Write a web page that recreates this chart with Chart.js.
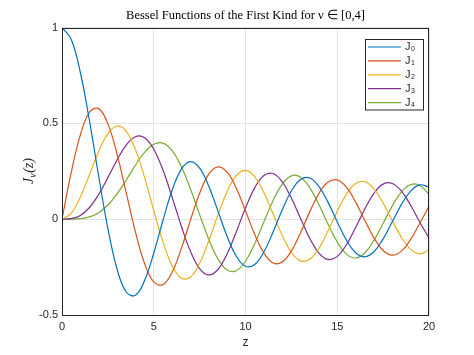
<!DOCTYPE html>
<html><head><meta charset="utf-8">
<script src="https://cdn.jsdelivr.net/npm/chart.js@4/dist/chart.umd.min.js"></script>
<style>html,body{margin:0;padding:0;background:#fff}#wrap{width:474px;height:355px}</style>
</head><body><div id="wrap"><canvas id="c" width="474" height="355"></canvas></div>
<script>
const z = [0,0.5,1,1.5,2,2.5,3,3.5,4,4.5,5,5.5,6,6.5,7,7.5,8,8.5,9,9.5,10,10.5,11,11.5,12,12.5,13,13.5,14,14.5,15,15.5,16,16.5,17,17.5,18,18.5,19,19.5,20];
const J0 = [1,0.93847,0.76520,0.51183,0.22389,-0.04838,-0.26005,-0.38013,-0.39715,-0.32054,-0.17760,-0.00684,0.15065,0.26009,0.30008,0.26635,0.17165,0.04194,-0.09033,-0.19393,-0.24594,-0.23665,-0.17119,-0.06766,0.04769,0.14688,0.20693,0.21499,0.17107,0.08755,-0.01422,-0.10923,-0.17490,-0.19638,-0.16985,-0.10311,-0.01336,0.07716,0.14663,0.17886,0.16702];
const J1 = [0,0.24227,0.44005,0.55794,0.57672,0.49709,0.33906,0.13738,-0.06604,-0.23106,-0.32758,-0.34144,-0.27668,-0.15384,-0.00468,0.13525,0.23464,0.27312,0.24531,0.16126,0.04347,-0.07887,-0.17679,-0.22838,-0.22345,-0.16548,-0.07032,0.03806,0.13338,0.19343,0.20510,0.16722,0.09040,-0.00577,-0.09767,-0.16343,-0.18795,-0.16663,-0.10575,-0.02088,0.06683];
const J2 = [0,0.03060,0.11490,0.23208,0.35283,0.44605,0.48609,0.45863,0.36413,0.21785,0.04657,-0.11732,-0.24287,-0.30743,-0.30142,-0.23028,-0.11299,0.02232,0.14485,0.22788,0.25463,0.22163,0.13905,0.02794,-0.08493,-0.17336,-0.21775,-0.20935,-0.15202,-0.06087,0.04157,0.13081,0.18620,0.19568,0.15836,0.08443,-0.00752,-0.09517,-0.15776,-0.18100,-0.16034];
const J3 = [0,0.00256,0.01956,0.06096,0.12894,0.21659,0.30906,0.38677,0.43017,0.42470,0.36483,0.25612,0.11477,-0.03535,-0.16756,-0.25807,-0.29113,-0.26262,-0.18093,-0.06531,0.05838,0.16330,0.22735,0.23810,0.19514,0.11000,0.00332,-0.10009,-0.17681,-0.21022,-0.19401,-0.13346,-0.04385,0.05321,0.13493,0.18273,0.18628,0.14605,0.07254,-0.01625,-0.09890];
const J4 = [0,0.00016,0.00248,0.01177,0.03400,0.07377,0.13203,0.20440,0.28113,0.34842,0.39123,0.39672,0.35764,0.27480,0.15780,0.02382,-0.10536,-0.20770,-0.26547,-0.26913,-0.21960,-0.12832,-0.01504,0.09629,0.18250,0.22616,0.21928,0.16487,0.07624,-0.02612,-0.11917,-0.18247,-0.20264,-0.17633,-0.11074,-0.02178,0.06961,0.14254,0.18067,0.17600,0.13067];
const seriesNames = ['0','1','2','3','4'];
const seriesValues = [J0,J1,J2,J3,J4];
const colors = ['#0072BD','#D95319','#EDB120','#7E2F8E','#77AC30'];
const titleText = 'Bessel Functions of the First Kind for \u03BD \u2208 [0,4]';
const xTitle = 'z';

const datasets = seriesValues.map((vals,i)=>({
  label: 'J' + seriesNames[i],
  data: z.map((x,k)=>({x:x,y:vals[k]})),
  borderColor: colors[i],
  backgroundColor: colors[i],
  borderWidth: 1.2,
  pointRadius: 0,
  tension: 0.4,
  fill: false
}));

const axisColor = '#262626';
const framePlugin = {
  id:'frame',
  afterDatasetsDraw(chart){
    const {ctx, chartArea:a} = chart;
    ctx.save();
    ctx.strokeStyle = axisColor; ctx.lineWidth = 1;
    ctx.strokeRect(Math.round(a.left)+0.5, Math.round(a.top)+0.5, Math.round(a.right-a.left)-1, Math.round(a.bottom-a.top)-1);
    // legend box
    const lx = 365, ly = 39, lw = 58, lh = 70.5;
    ctx.fillStyle = '#fff';
    ctx.fillRect(lx, ly, lw, lh);
    ctx.strokeStyle = axisColor;
    ctx.strokeRect(lx+0.5, ly+0.5, lw, lh);
    chart.data.datasets.forEach((ds,i)=>{
      const y = 47 + i*13.9;
      ctx.strokeStyle = ds.borderColor; ctx.lineWidth = 1.2;
      ctx.beginPath(); ctx.moveTo(368, y); ctx.lineTo(401, y); ctx.stroke();
      ctx.fillStyle = axisColor;
      ctx.textBaseline = 'middle'; ctx.textAlign = 'left';
      ctx.font = '11px "Liberation Sans", Arial, sans-serif';
      ctx.fillText('J', 405, y);
      const w = ctx.measureText('J').width;
      ctx.font = '7px "Liberation Sans", Arial, sans-serif';
      ctx.fillText(seriesNames[i], 405 + w + 0.5, y + 2.5);
    });
    // y axis label  J_nu(z)
    ctx.translate(28, (a.top + a.bottom)/2);
    ctx.rotate(-Math.PI/2);
    ctx.fillStyle = axisColor;
    ctx.textBaseline = 'alphabetic'; ctx.textAlign = 'left';
    const big = 'italic 14px "Liberation Serif", "Times New Roman", serif';
    const small = 'italic 10px "Liberation Serif", "Times New Roman", serif';
    ctx.font = big; const w1 = ctx.measureText('J').width;
    ctx.font = small; const w2 = ctx.measureText('\u03BD').width;
    ctx.font = big; const w3 = ctx.measureText('(z)').width;
    let x0 = -(w1+w2+w3)/2;
    ctx.font = big; ctx.fillText('J', x0, 5);
    ctx.font = small; ctx.fillText('\u03BD', x0 + w1, 8);
    ctx.font = big; ctx.fillText('(z)', x0 + w1 + w2 + 0.5, 5);
    ctx.restore();
  }
};

new Chart(document.getElementById('c'), {
  type:'line',
  data:{datasets},
  plugins:[framePlugin],
  options:{
    responsive:false, animation:false,
    layout:{padding:{left:0,right:45,top:0,bottom:0}},
    plugins:{
      legend:{display:false},
      tooltip:{enabled:false},
      title:{display:true, text:titleText, fullSize:false, color:'#000',
        font:{family:'"Liberation Serif", "Times New Roman", serif', size:12.5, weight:'normal'},
        padding:{top:8,bottom:4.5}}
    },
    scales:{
      x:{type:'linear', min:0, max:20,
        afterFit(s){ s.height = 40; },
        ticks:{stepSize:5, color:axisColor, padding:5, maxRotation:0,
          font:{family:'"Liberation Sans", Arial, sans-serif', size:11}},
        grid:{color:'#e3e3e3', drawTicks:false},
        border:{display:false},
        title:{display:true, text:xTitle, color:axisColor, padding:{top:0,bottom:5},
          font:{family:'"Liberation Sans", Arial, sans-serif', size:12}}
      },
      y:{type:'linear', min:-0.5, max:1,
        afterFit(s){ s.width = 62; },
        ticks:{stepSize:0.5, color:axisColor, padding:4,
          callback:(v)=>String(v),
          font:{family:'"Liberation Sans", Arial, sans-serif', size:11}},
        grid:{color:'#e3e3e3', drawTicks:false},
        border:{display:false}
      }
    }
  }
});
</script></body></html>
